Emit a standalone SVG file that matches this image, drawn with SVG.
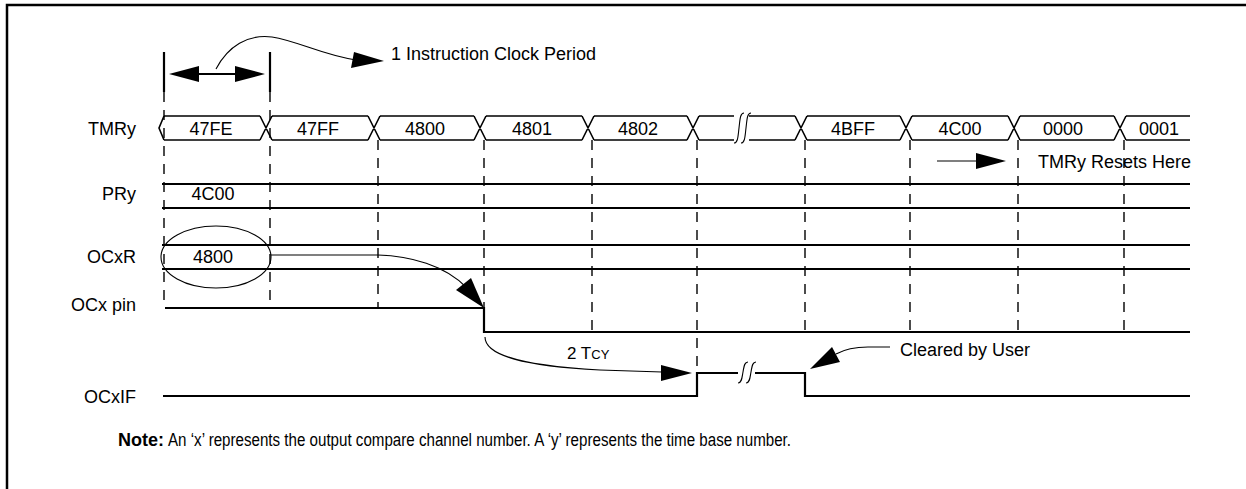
<svg xmlns="http://www.w3.org/2000/svg" width="1246" height="489" viewBox="0 0 1246 489">
<style>
.t{font-family:"Liberation Sans",Arial,Helvetica,sans-serif;font-size:18px;fill:#000}
.lbl{text-anchor:end}
.val{text-anchor:middle}
.sig{stroke:#000;stroke-width:2.2;fill:none}
.bus{stroke:#000;stroke-width:1.6;fill:none}
.dash{stroke:#000;stroke-width:1.4;stroke-dasharray:10 8;fill:none}
.thin{stroke:#000;stroke-width:1.1;fill:none}
.head{fill:#000;stroke:none}
</style>
<rect width="1246" height="489" fill="#fff"/>
<!-- frame -->
<path d="M7,489 L7,5 L1246,5" fill="none" stroke="#000" stroke-width="2.5"/>

<!-- dashed guides -->
<g id="guides">
<path class="dash" d="M164,92 V307 M270,92 V307 M378,140 V307 M484,140 V307 M592,140 V331 M697,140 V372 M805,140 V331 M910,140 V331 M1018,140 V331 M1124,140 V331"/>
</g>

<!-- period marker -->
<g id="period">
<path class="sig" d="M164,52 V92 M270,52 V92"/>
<path class="sig" d="M195,74 H240"/>
<polygon class="head" points="169,74 199,66 199,82"/>
<polygon class="head" points="265,74 235,66 235,82"/>
<text class="t" x="391" y="60">1 Instruction Clock Period</text>
</g>

<!-- TMRy -->
<g id="sig-tmry">
<text class="t lbl" x="136" y="135">TMRy</text>
<path class="bus" d="M164,116 L159,128 L164,140
M164,116 H260 M164,140 H260
M260,116 L272,140 M260,140 L272,116
M272,116 H368 M272,140 H368
M368,116 L380,140 M368,140 L380,116
M380,116 H474 M380,140 H474
M474,116 L486,140 M474,140 L486,116
M486,116 H582 M486,140 H582
M582,116 L594,140 M582,140 L594,116
M594,116 H687 M594,140 H687
M687,116 L699,140 M687,140 L699,116
M699,116 H734 M699,140 H734
M749,116 H795 M749,140 H795
M795,116 L807,140 M795,140 L807,116
M807,116 H900 M807,140 H900
M900,116 L912,140 M900,140 L912,116
M912,116 H1008 M912,140 H1008
M1008,116 L1020,140 M1008,140 L1020,116
M1020,116 H1114 M1020,140 H1114
M1114,116 L1126,140 M1114,140 L1126,116
M1126,116 H1190 M1126,140 H1190"/>
<path class="thin" d="M734,143 C738,143 738,136 739,128 C740,120 740,113 744,113"/>
<path class="thin" d="M741,143 C745,143 745,136 746,128 C747,120 747,113 751,113"/>
<text class="t val" x="211" y="135">47FE</text>
<text class="t val" x="318" y="135">47FF</text>
<text class="t val" x="425" y="135">4800</text>
<text class="t val" x="532" y="135">4801</text>
<text class="t val" x="638" y="135">4802</text>
<text class="t val" x="853" y="135">4BFF</text>
<text class="t val" x="960" y="135">4C00</text>
<text class="t val" x="1063" y="135">0000</text>
<text class="t val" x="1159" y="135">0001</text>
</g>

<!-- PRy -->
<g id="sig-pry">
<text class="t lbl" x="136" y="200">PRy</text>
<path class="sig" d="M162,184 H1190 M162,208 H1190"/>
<text class="t val" x="213" y="200">4C00</text>
</g>

<!-- OCxR -->
<g id="sig-ocxr">
<text class="t lbl" x="136" y="263">OCxR</text>
<path class="sig" d="M162,245 H1190 M162,269 H1190"/>
<text class="t val" x="213" y="263">4800</text>
<ellipse cx="216" cy="257" rx="55" ry="31" class="thin"/>
</g>

<!-- OCx pin -->
<g id="sig-ocxpin">
<text class="t lbl" x="136" y="311">OCx pin</text>
<path class="sig" d="M165,308 H484 V332 H1190"/>
</g>

<!-- OCxIF -->
<g id="sig-ocxif">
<text class="t lbl" x="136" y="403">OCxIF</text>
<path class="sig" d="M163,396 H697 V373 H738 M755,373 H805 V396 H1190"/>
<path class="thin" d="M738,383 C742,383 742,377 743,372 C744,367 744,362 748,362"/>
<path class="thin" d="M746,383 C750,383 750,377 751,372 C752,367 752,362 756,362"/>
</g>

<!-- connectors -->
<g id="connectors">
<path class="thin" d="M216,69 C228,46 248,34 272,37 C298,41 322,55 356,60"/>
<polygon class="head" points="384,61 354,52 351,68"/>
<path class="thin" d="M271,255 H378 C410,256 445,265 467,288"/>
<polygon class="head" points="484,308 456,290 471,278"/>
<path class="thin" d="M485,337 C485,356 525,366 600,370 L662,372"/>
<polygon class="head" points="692,373 661,365 661,381"/>
<path class="thin" d="M937,161 H978"/>
<polygon class="head" points="1006,161 976,153 976,169"/>
<path class="thin" d="M890,347 H868 C855,347 845,349 836,354"/>
<polygon class="head" points="810,369 832,347 840,362"/>
</g>

<!-- annotations -->
<g id="annotations">
<text class="t" x="1038" y="168">TMRy Resets Here</text>
<text class="t" x="567" y="359"><tspan font-size="17">2 T</tspan><tspan font-size="13">CY</tspan></text>
<text class="t" x="900" y="356">Cleared by User</text>
<text class="t" x="118" y="446" font-size="16" font-weight="bold">Note:</text>
<text class="t" x="168" y="446" font-size="16" textLength="623" lengthAdjust="spacingAndGlyphs">An ‘x’ represents the output compare channel number. A ‘y’ represents the time base number.</text>
</g>
</svg>
